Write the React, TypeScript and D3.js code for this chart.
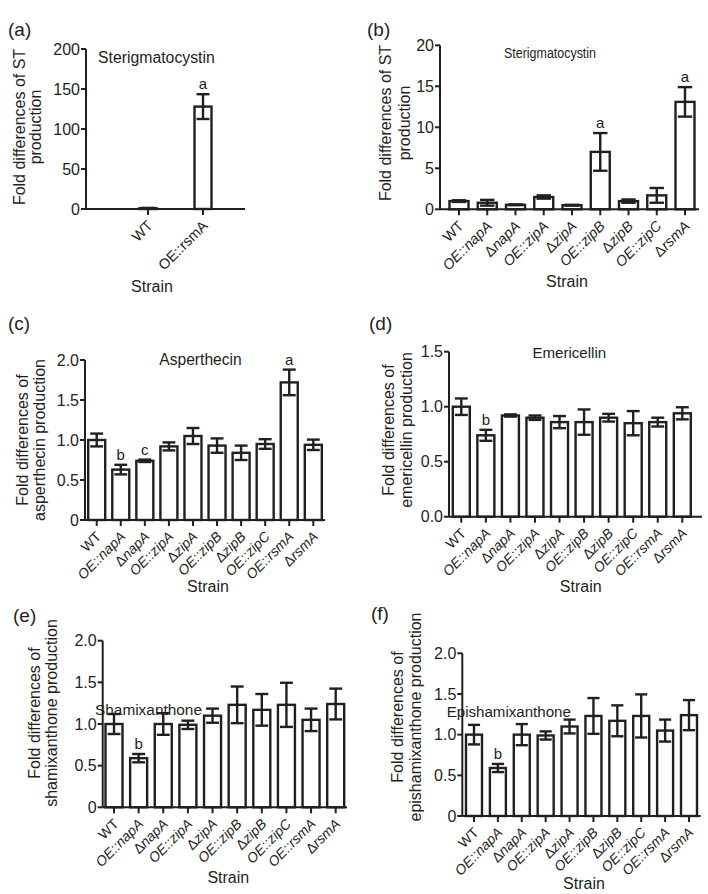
import React from "react";
import * as d3 from "d3";

// ---------- data ----------
const strainsA = ["WT", "OE::rsmA"];
const valuesA = [1, 128];
const errorsA = [0.4, 15.5];
const lettersA = ["", "a"];
const ticksA = [0, 50, 100, 150, 200];

const strainsB = ["WT", "OE::napA", "ΔnapA", "OE::zipA", "ΔzipA", "OE::zipB", "ΔzipB", "OE::zipC", "ΔrsmA"];
const valuesB = [1.0, 0.8, 0.55, 1.5, 0.5, 7.0, 1.0, 1.7, 13.1];
const errorsB = [0.1, 0.35, 0.05, 0.2, 0.05, 2.3, 0.2, 0.9, 1.8];
const lettersB = ["", "", "", "", "", "a", "", "", "a"];
const ticksB = [0, 5, 10, 15, 20];

const strainsCF = ["WT", "OE::napA", "ΔnapA", "OE::zipA", "ΔzipA", "OE::zipB", "ΔzipB", "OE::zipC", "OE::rsmA", "ΔrsmA"];

const valuesC = [1.0, 0.63, 0.74, 0.92, 1.05, 0.93, 0.84, 0.95, 1.72, 0.94];
const errorsC = [0.08, 0.06, 0.015, 0.05, 0.1, 0.09, 0.09, 0.06, 0.16, 0.065];
const lettersC = ["", "b", "c", "", "", "", "", "", "a", ""];
const ticksC = [0, 0.5, 1.0, 1.5, 2.0];

const valuesD = [1.0, 0.74, 0.92, 0.9, 0.86, 0.86, 0.9, 0.85, 0.86, 0.94];
const errorsD = [0.075, 0.05, 0.01, 0.02, 0.055, 0.115, 0.035, 0.11, 0.04, 0.055];
const lettersD = ["", "b", "", "", "", "", "", "", "", ""];
const ticksD = [0, 0.5, 1.0, 1.5];

const valuesE = [1.0, 0.59, 1.0, 0.99, 1.1, 1.23, 1.17, 1.23, 1.05, 1.24];
const errorsE = [0.12, 0.05, 0.13, 0.05, 0.085, 0.22, 0.19, 0.265, 0.135, 0.185];
const lettersE = ["", "b", "", "", "", "", "", "", "", ""];
const ticksE = [0, 0.5, 1.0, 1.5, 2.0];

const valuesF = [1.0, 0.59, 1.0, 0.99, 1.1, 1.23, 1.17, 1.23, 1.05, 1.24];
const errorsF = [0.12, 0.05, 0.13, 0.05, 0.085, 0.22, 0.19, 0.265, 0.135, 0.185];
const lettersF = ["", "b", "", "", "", "", "", "", "", ""];
const ticksF = [0, 0.5, 1.0, 1.5, 2.0];

// ---------- styling ----------
const FONT = "'Liberation Sans', Arial, Helvetica, sans-serif";
const INK = "#231f20";

const fmtInt = (d: number) => String(d);
const fmtZero = (d: number) => (d === 0 ? "0" : d.toFixed(1));
const fmtDec = (d: number) => d.toFixed(1);

type Cfg = {
  tag: string; tagX: number; tagY: number;
  axisX: number; yTop: number; y0: number; xEnd: number;
  xFirst: number; xLast: number; bw: number;
  domain: [number, number]; ticks: number[]; fmt: (d: number) => string;
  strains: string[]; values: number[]; errors: number[]; letters: string[];
  title: string; titleX: number; titleY: number; titleAnchor: string; titleSize: number; titleLen?: number;
  yLabel: string[]; yLabelX: number[]; yLabelY: number;
  strainX: number; strainY: number;
  tickFont: number; catFont: number; italic: boolean;
};

function CatLabel({ name, italic }: { name: string; italic: boolean }) {
  if (name === "WT") return <>{name}</>;
  if (name.startsWith("Δ")) {
    return (
      <>
        <tspan>Δ</tspan>
        <tspan fontStyle={italic ? "italic" : "normal"}>{name.slice(1)}</tspan>
      </>
    );
  }
  return <tspan fontStyle={italic ? "italic" : "normal"}>{name}</tspan>;
}

function Panel({ c }: { c: Cfg }) {
  const y = d3.scaleLinear().domain(c.domain).range([c.y0, c.yTop]);
  const x = d3.scalePoint<string>().domain(c.strains).range([c.xFirst, c.xLast]);
  const cap = c.bw * 0.38;
  return (
    <g fontFamily={FONT} fill={INK}>
      <text x={c.tagX} y={c.tagY} fontSize={19}>{c.tag}</text>
      {/* bars */}
      {c.strains.map((s, i) => {
        const cx = x(s) as number;
        const top = y(c.values[i]);
        return (
          <rect key={"b" + i} x={cx - c.bw / 2} y={top} width={c.bw} height={Math.max(0.5, c.y0 - top)}
            fill="#fff" stroke={INK} strokeWidth={2.4} />
        );
      })}
      {/* error bars */}
      {c.strains.map((s, i) => {
        const cx = x(s) as number;
        const hi = y(c.values[i] + c.errors[i]);
        const lo = y(Math.max(0, c.values[i] - c.errors[i]));
        return (
          <g key={"e" + i} stroke={INK} strokeWidth={2.4}>
            <line x1={cx} x2={cx} y1={hi} y2={lo} />
            <line x1={cx - cap} x2={cx + cap} y1={hi} y2={hi} />
            <line x1={cx - cap} x2={cx + cap} y1={lo} y2={lo} />
          </g>
        );
      })}
      {/* letters */}
      {c.strains.map((s, i) =>
        c.letters[i] ? (
          <text key={"l" + i} x={x(s) as number} y={y(c.values[i] + c.errors[i]) - 5}
            textAnchor="middle" fontSize={15}>{c.letters[i]}</text>
        ) : null
      )}
      {/* y axis */}
      <line x1={c.axisX} x2={c.axisX} y1={c.yTop} y2={c.y0} stroke={INK} strokeWidth={2} />
      {c.ticks.map((t) => (
        <g key={"t" + t}>
          <line x1={c.axisX - 5} x2={c.axisX} y1={y(t)} y2={y(t)} stroke={INK} strokeWidth={2} />
          <text x={c.axisX - 6} y={y(t)} dy="0.36em" textAnchor="end" fontSize={c.tickFont}>{c.fmt(t)}</text>
        </g>
      ))}
      {/* x axis */}
      <line x1={c.axisX} x2={c.xEnd} y1={c.y0} y2={c.y0} stroke={INK} strokeWidth={2} />
      {c.strains.map((s, i) => {
        const cx = x(s) as number;
        return (
          <g key={"x" + i}>
            <line x1={cx} x2={cx} y1={c.y0} y2={c.y0 + 6} stroke={INK} strokeWidth={2} />
            <text transform={`translate(${cx + 2},${c.y0 + 14}) rotate(-45)`} textAnchor="end"
              fontSize={c.catFont} dy="0.35em">
              <CatLabel name={s} italic={c.italic} />
            </text>
          </g>
        );
      })}
      {/* title */}
      <text x={c.titleX} y={c.titleY} textAnchor={c.titleAnchor as any} fontSize={c.titleSize}
        {...(c.titleLen ? { textLength: c.titleLen, lengthAdjust: "spacingAndGlyphs" } : {})}>{c.title}</text>
      {/* y label */}
      {c.yLabel.map((l, i) => (
        <text key={"yl" + i} transform={`translate(${c.yLabelX[i]},${c.yLabelY}) rotate(-90)`}
          textAnchor="middle" fontSize={16}>{l}</text>
      ))}
      <text x={c.strainX} y={c.strainY} textAnchor="middle" fontSize={16}>Strain</text>
    </g>
  );
}

const panels: Cfg[] = [
  {
    tag: "(a)", tagX: 8, tagY: 36, axisX: 86, yTop: 49, y0: 209, xEnd: 245, xFirst: 148, xLast: 203, bw: 17,
    domain: [0, 200], ticks: ticksA, fmt: fmtInt, strains: strainsA, values: valuesA, errors: errorsA, letters: lettersA,
    title: "Sterigmatocystin", titleX: 98, titleY: 63, titleAnchor: "start", titleSize: 15.8,
    yLabel: ["Fold differences of ST", "production"], yLabelX: [25, 41], yLabelY: 127,
    strainX: 152, strainY: 292, tickFont: 16, catFont: 14.5, italic: false,
  },
  {
    tag: "(b)", tagX: 367, tagY: 36, axisX: 440, yTop: 45.3, y0: 209.3, xEnd: 699, xFirst: 459, xLast: 685, bw: 19,
    domain: [0, 20], ticks: ticksB, fmt: fmtInt, strains: strainsB, values: valuesB, errors: errorsB, letters: lettersB,
    title: "Sterigmatocystin", titleX: 550, titleY: 58, titleAnchor: "middle", titleSize: 15.5, titleLen: 92,
    yLabel: ["Fold differences of ST", "production"], yLabelX: [391, 410], yLabelY: 123,
    strainX: 567, strainY: 287, tickFont: 16, catFont: 14.5, italic: true,
  },
  {
    tag: "(c)", tagX: 8, tagY: 330, axisX: 85, yTop: 360, y0: 520, xEnd: 325, xFirst: 96.7, xLast: 313.3, bw: 17,
    domain: [0, 2], ticks: ticksC, fmt: fmtZero, strains: strainsCF, values: valuesC, errors: errorsC, letters: lettersC,
    title: "Asperthecin", titleX: 200.5, titleY: 365, titleAnchor: "middle", titleSize: 15.6,
    yLabel: ["Fold differences of", "asperthecin production"], yLabelX: [28, 45], yLabelY: 440,
    strainX: 208, strainY: 592, tickFont: 16, catFont: 14, italic: true,
  },
  {
    tag: "(d)", tagX: 369, tagY: 330, axisX: 449, yTop: 351.7, y0: 516.7, xEnd: 702, xFirst: 461.3, xLast: 682.3, bw: 17,
    domain: [0, 1.5], ticks: ticksD, fmt: fmtDec, strains: strainsCF, values: valuesD, errors: errorsD, letters: lettersD,
    title: "Emericellin", titleX: 569.3, titleY: 357.7, titleAnchor: "middle", titleSize: 15.1,
    yLabel: ["Fold differences of", "emericellin production"], yLabelX: [394, 412], yLabelY: 430,
    strainX: 580.7, strainY: 592, tickFont: 16, catFont: 14, italic: true,
  },
  {
    tag: "(e)", tagX: 13, tagY: 622, axisX: 102.7, yTop: 640.7, y0: 807.3, xEnd: 347, xFirst: 114, xLast: 335.7, bw: 17,
    domain: [0, 2], ticks: ticksE, fmt: fmtZero, strains: strainsCF, values: valuesE, errors: errorsE, letters: lettersE,
    title: "Shamixanthone", titleX: 95, titleY: 715, titleAnchor: "start", titleSize: 15.4,
    yLabel: ["Fold differences of", "shamixanthone production"], yLabelX: [40, 57], yLabelY: 713,
    strainX: 228.3, strainY: 882.7, tickFont: 16, catFont: 14, italic: true,
  },
  {
    tag: "(f)", tagX: 371, tagY: 620, axisX: 462.3, yTop: 653.3, y0: 816, xEnd: 700.7, xFirst: 474, xLast: 689, bw: 16,
    domain: [0, 2], ticks: ticksF, fmt: fmtZero, strains: strainsCF, values: valuesF, errors: errorsF, letters: lettersF,
    title: "Epishamixanthone", titleX: 446.7, titleY: 717, titleAnchor: "start", titleSize: 15.1,
    yLabel: ["Fold differences of", "epishamixanthone production"], yLabelX: [403, 420.7], yLabelY: 717,
    strainX: 584, strainY: 889, tickFont: 16, catFont: 14, italic: true,
  },
];

export default function App() {
  return (
    <svg width={708} height={894} viewBox="0 0 708 894"
      style={{ position: "absolute", left: 0, top: 0, background: "#fff" }}>
      <rect width={708} height={894} fill="#fff" />
      {panels.map((p) => <Panel key={p.tag} c={p} />)}
    </svg>
  );
}
